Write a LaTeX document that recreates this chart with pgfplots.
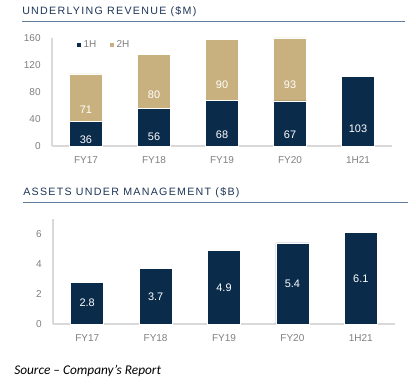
\documentclass[border=0pt]{standalone}
\usepackage{pgfplots}
\pgfplotsset{compat=1.18}
\usepackage{fontspec}
\setmainfont{Liberation Sans}
\newfontfamily\titlefont[LetterSpace=12]{Liberation Sans}
\newfontfamily\srcfont{Carlito}
\definecolor{navy}{HTML}{0B2B4B}
\definecolor{tan}{HTML}{C9B17F}
\definecolor{tickgray}{HTML}{7F7F7F}
\definecolor{axisgray}{HTML}{D9D9D9}
\definecolor{titlecol}{HTML}{1C3557}
\definecolor{rulecol}{HTML}{5E7C99}
\pgfplotsset{
  mybase/.style={
    scale only axis,
    axis x line=bottom, axis y line=left,
    axis line style={axisgray, line width=0.9pt, -},
    major tick length=0pt,
    tick label style={font=\fontsize{7.5}{8}\selectfont, text=tickgray},
    /pgf/number format/assume math mode=true,
    xtick=data,
    xticklabels={FY17,FY18,FY19,FY20,1H21},
    xticklabel style={yshift=-4.5pt},
    yticklabel style={xshift=-5pt},
    xmin=-0.5, xmax=4.5,
    ymin=0,
    clip=false,
  }
}
\begin{document}
\begin{tikzpicture}
\path[use as bounding box] (0,0) rectangle (312pt,-291pt);
% titles
\node[anchor=west, inner sep=0pt, text=titlecol] at (16.5pt,-9pt) {\titlefont\fontsize{8}{9}\selectfont UNDERLYING REVENUE (\$M)};
\draw[rulecol, line width=0.7pt] (16.5pt,-15.75pt) -- (304pt,-15.75pt);
\node[anchor=west, inner sep=0pt, text=titlecol] at (17.25pt,-144.75pt) {\titlefont\fontsize{8}{9}\selectfont ASSETS UNDER MANAGEMENT (\$B)};
\draw[rulecol, line width=0.7pt] (17.25pt,-151.5pt) -- (306pt,-151.5pt);
\node[anchor=west, inner sep=0pt] at (10.5pt,-278.25pt) {\srcfont\itshape\fontsize{10}{12}\selectfont Source – Company’s Report};

\begin{axis}[mybase,
  at={(39pt,-109.5pt)}, anchor=south west,
  width=255pt, height=81pt,
  ymax=160, ytick={0,40,80,120,160},
  ybar stacked, bar width=24.75pt,
  visualization depends on={rawy \as \rawy},
  nodes near coords,
  every node near coord/.append style={anchor=center, text=white, font=\fontsize{8.2}{9}\selectfont, yshift={-0.1265625*\rawy}},
  legend style={draw=none, fill=none, at={(0.06,1.03)}, anchor=north west, legend columns=2,
    font=\fontsize{7.5}{8}\selectfont, text=tickgray,
    /tikz/every even column/.append style={column sep=8pt}},
  legend image code/.code={\fill[#1,draw=none] (0pt,-1.6pt) rectangle (3.2pt,1.6pt);},
]
\addplot[fill=navy, draw=white, line width=0.4pt] coordinates {(0,36) (1,56) (2,68) (3,67) (4,103)};
\addplot[fill=tan, draw=white, line width=0.4pt] coordinates {(0,71) (1,80) (2,90) (3,93)};
\legend{1H,2H}
\end{axis}

\begin{axis}[mybase,
  at={(39.75pt,-243pt)}, anchor=south west,
  width=256.5pt, height=78.75pt,
  ymax=7, ytick={0,2,4,6},
  ybar, bar width=24.75pt,
  nodes near coords, point meta=y,
  nodes near coords style={/pgf/number format/fixed, /pgf/number format/fixed zerofill, /pgf/number format/precision=1},
  visualization depends on={rawy \as \rawy},
  every node near coord/.append style={anchor=center, text=white, font=\fontsize{8.2}{9}\selectfont, yshift={-0.5*11.25*\rawy}},
]
\addplot[fill=navy, draw=white, line width=0.4pt] coordinates {(0,2.8) (1,3.7) (2,4.9) (3,5.4) (4,6.1)};
\end{axis}
\end{tikzpicture}
\end{document}
